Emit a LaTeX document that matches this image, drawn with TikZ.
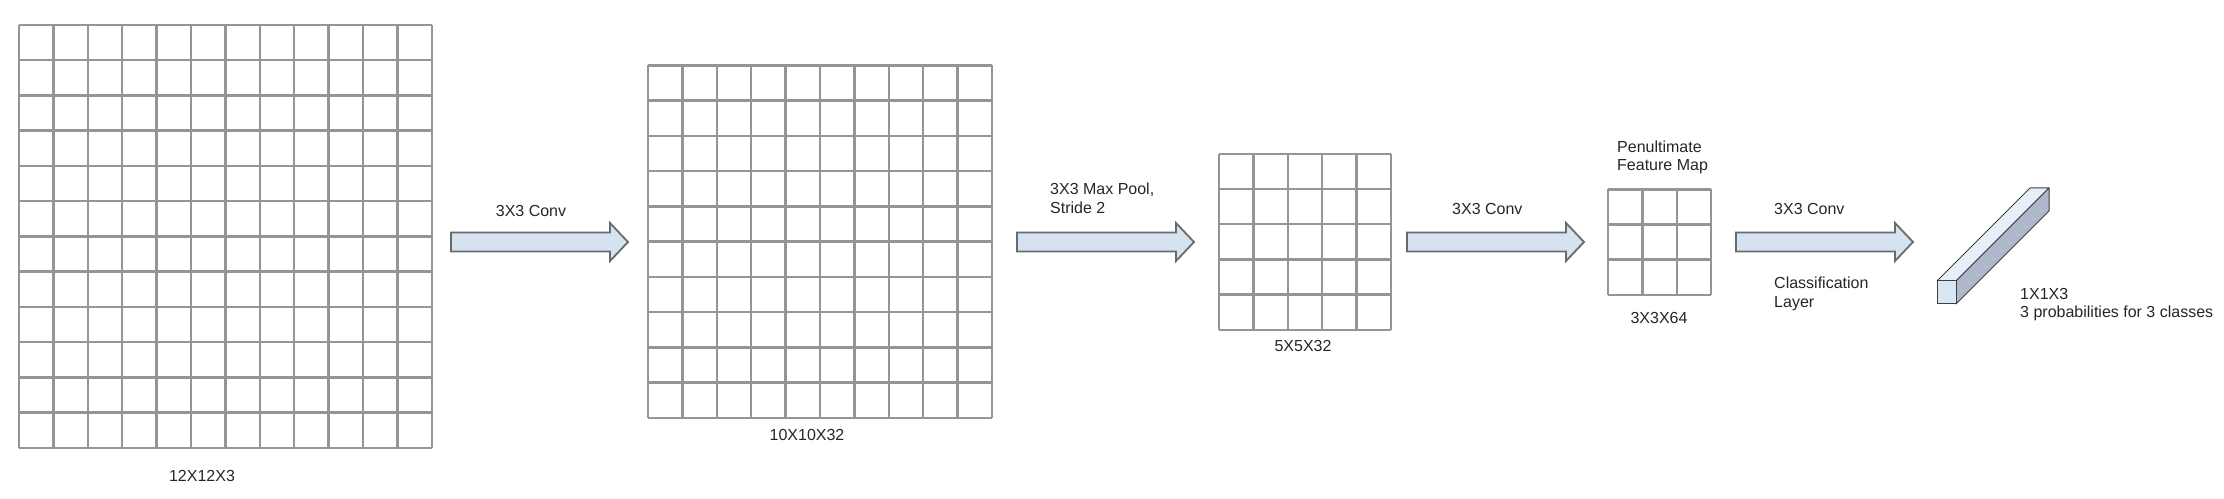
\documentclass[tikz,border=0pt]{standalone}
\usepackage{fontspec}
\setmainfont{Liberation Sans}
\usetikzlibrary{positioning}
\definecolor{gridgray}{HTML}{959595}
\definecolor{arrowblue}{HTML}{D5E3F1}
\definecolor{edgegray}{HTML}{6A6A6A}
\definecolor{barfront}{HTML}{D9E6F4}
\definecolor{bartop}{HTML}{E6EEF8}
\definecolor{barside}{HTML}{AEB8C8}
\definecolor{txt}{HTML}{262626}
\tikzstyle{fmap} = [draw=gridgray, line width=2.5pt, step=1]
\tikzstyle{blockarrow} = [draw=edgegray, fill=arrowblue, line width=1.8pt, line join=miter]
\tikzstyle{barface} = [draw=black!75, line width=1pt, line join=round]
\tikzstyle{lbl} = [font=\fontsize{16}{18.5}\selectfont, text=txt, inner sep=0pt, align=left]

\begin{document}
\begin{tikzpicture}[x=1pt,y=1pt]
	\useasboundingbox (0,0) rectangle (2224,498);
	% feature maps
	\begin{scope}[shift={(19,50)},x=34.4pt,y=35.25pt]
		\draw[fmap] (0,0) grid (12,12);
	\end{scope}
	\begin{scope}[shift={(648,80)},x=34.4pt,y=35.25pt]
		\draw[fmap] (0,0) grid (10,10);
	\end{scope}
	\begin{scope}[shift={(1219,168)},x=34.4pt,y=35.25pt]
		\draw[fmap] (0,0) grid (5,5);
	\end{scope}
	\begin{scope}[shift={(1608,203)},x=34.4pt,y=35.25pt]
		\draw[fmap] (0,0) grid (3,3);
	\end{scope}
	\node[lbl] (in12) at (202,22) {12X12X3};
	\node[lbl] (conv10) at (807,63) {10X10X32};
	\node[lbl] (pool5) at (1303,152) {5X5X32};
	\node[lbl] (pen3) at (1659,180) {3X3X64};
	\node[lbl, anchor=west] (penname) at (1617,340.5) {Penultimate\\Feature Map};
	% block arrows
	\foreach \n/\x in {a1/451, a2/1017, a3/1407, a4/1736}
		\coordinate (\n) at (\x,256);
	\foreach \n in {a1,a2,a3,a4}
		\draw[blockarrow] (\n) ++(0,-9.5) -- ++(159,0) -- ++(0,-9.5) -- ++(18,19) -- ++(-18,19) -- ++(0,-9.5) -- ++(-159,0) -- cycle;
	\node[lbl] (op1) at (531,287) {3X3 Conv};
	\node[lbl, anchor=west] (op2) at (1050,299.5) {3X3 Max Pool,\\Stride 2};
	\node[lbl, anchor=west] (op3) at (1452,289) {3X3 Conv};
	\node[lbl, anchor=west] (op4) at (1774,289) {3X3 Conv};
	\node[lbl, anchor=west] (clsname) at (1774,204) {Classification\\Layer};
	% output bar
	\draw[barface, fill=bartop] (1937,217) -- (1956,217) -- (2049,310) -- (2030,310) -- cycle;
	\draw[barface, fill=barside] (1956,194) -- (2049,287) -- (2049,310) -- (1956,217) -- cycle;
	\draw[barface, fill=barfront] (1937,194) rectangle (1956,217);
	\node[lbl, anchor=west] (out) at (2020,193.5) {1X1X3\\3 probabilities for 3 classes};
\end{tikzpicture}
\end{document}
